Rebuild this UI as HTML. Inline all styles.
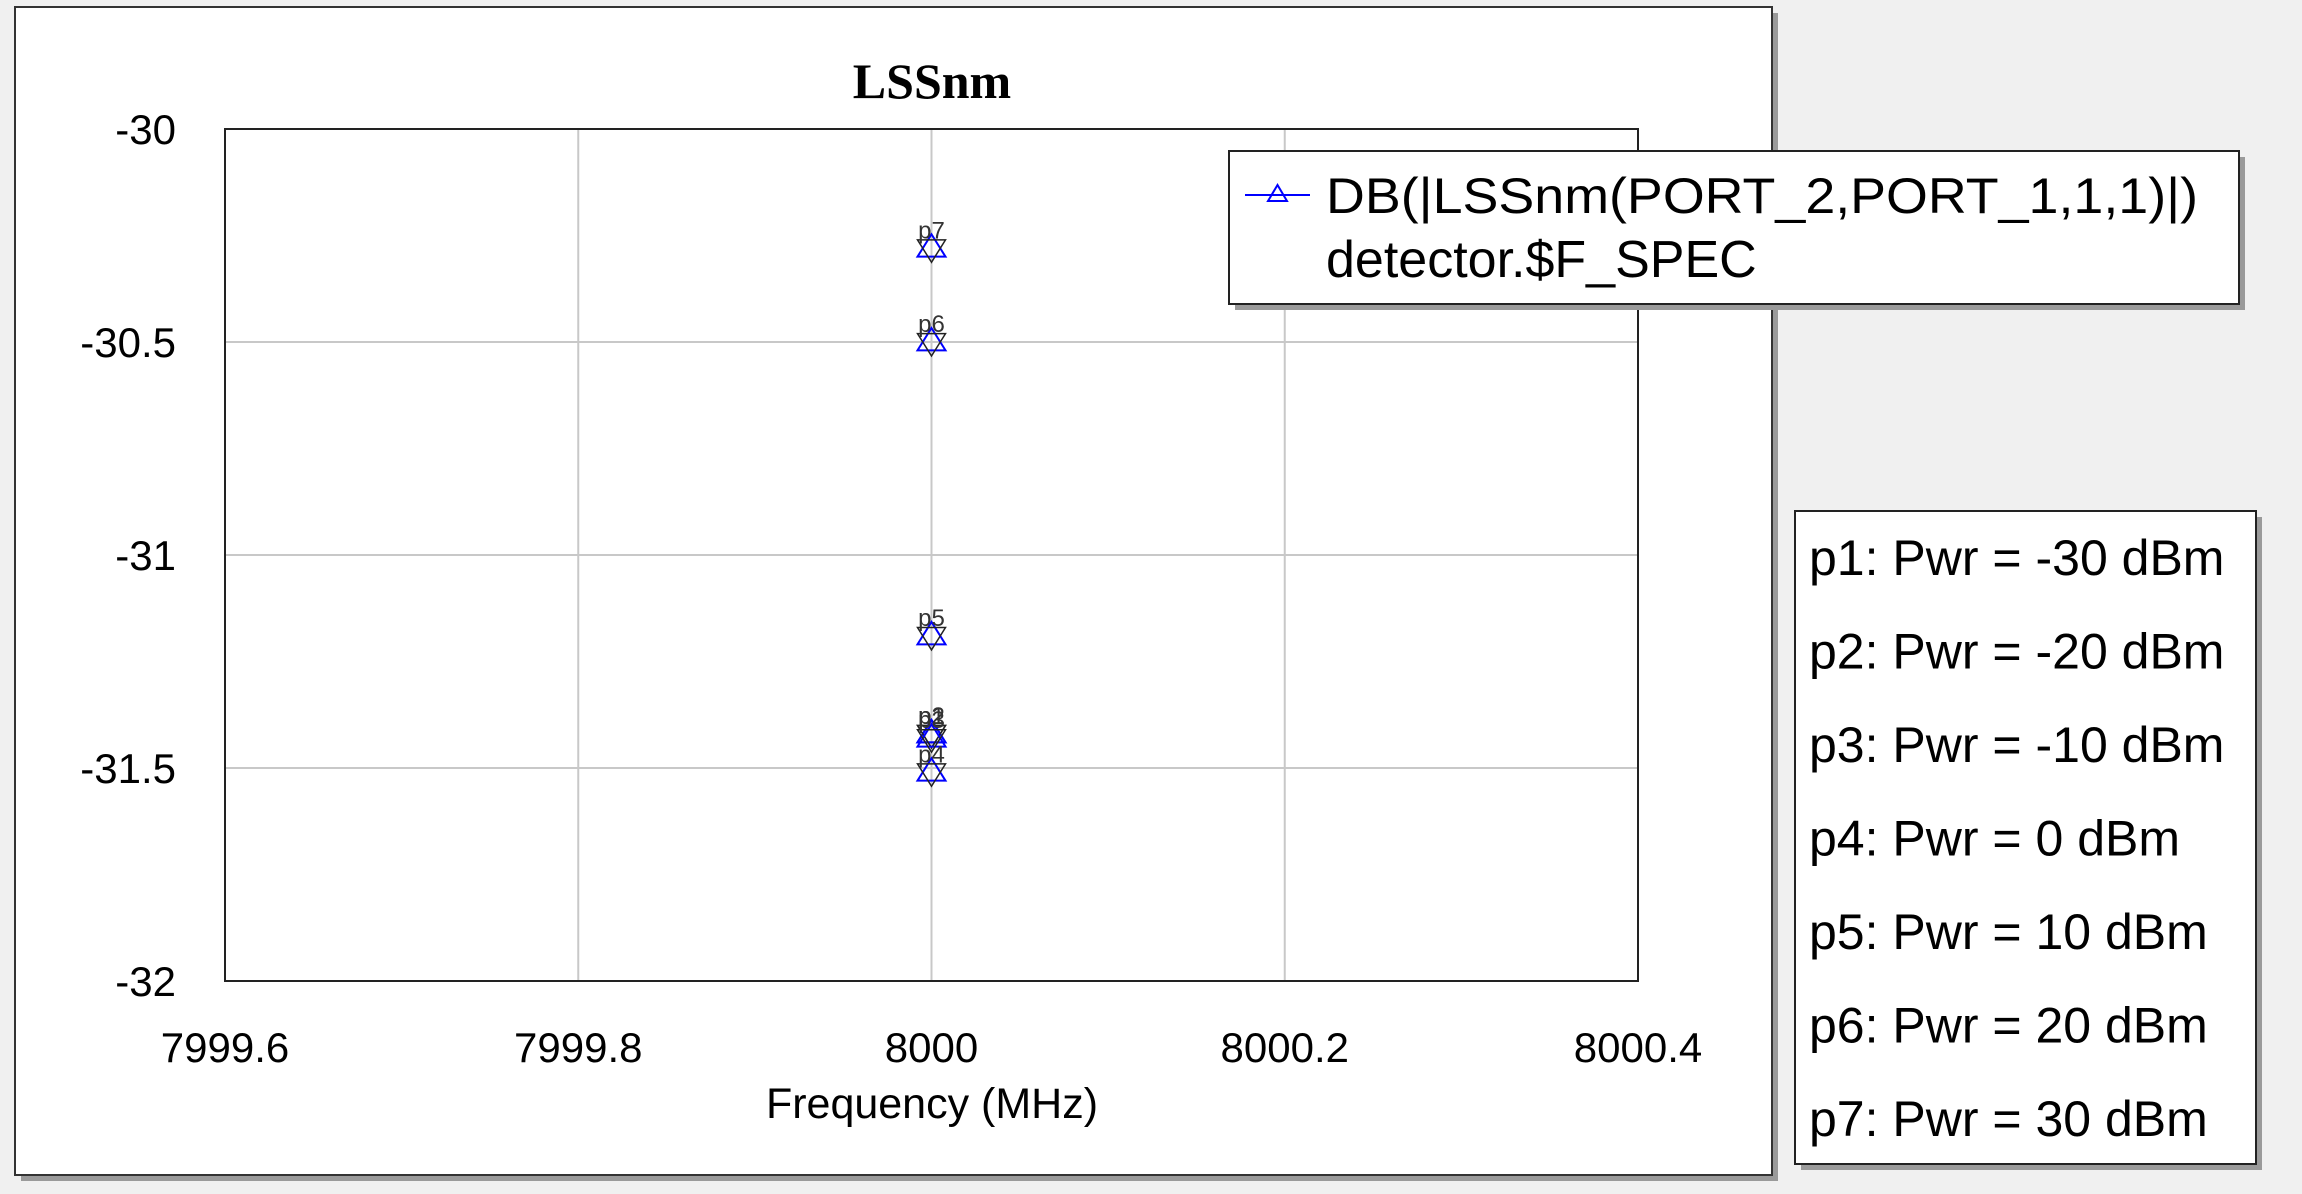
<!DOCTYPE html>
<html><head><meta charset="utf-8">
<style>
html,body{margin:0;padding:0;background:#f0f0f0;}
svg{display:block;font-family:"Liberation Sans",Arial,sans-serif;}
</style></head>
<body>
<svg id="chart" width="2302" height="1194" viewBox="0 0 2302 1194" xmlns="http://www.w3.org/2000/svg">
  <rect x="0" y="0" width="2302" height="1194" fill="#f0f0f0"/>
  <rect x="21" y="13" width="1757" height="1168" fill="#9a9a9a"/>
  <rect x="15" y="7" width="1757" height="1168" fill="#fff" stroke="#333" stroke-width="2"/>
  <text x="932" y="98" text-anchor="middle" font-family="Liberation Serif,serif" font-weight="bold" font-size="50">LSSnm</text>
  <g id="grid"></g>
  <rect x="225" y="129" width="1413" height="852" fill="none" stroke="#222" stroke-width="2"/>
  <g id="yticks"></g>
  <g id="xticks"></g>
  <text x="932" y="1118" text-anchor="middle" font-size="43">Frequency (MHz)</text>
  <g id="marks"></g>

  <g>
    <rect x="1235" y="157" width="1010" height="153" fill="#9a9a9a"/>
    <rect x="1229" y="151" width="1010" height="153" fill="#fff" stroke="#222" stroke-width="2"/>
    <line x1="1245" y1="195" x2="1310" y2="195" stroke="#0000ff" stroke-width="2"/>
    <polygon points="1277.5,185 1268,201 1287,201" fill="none" stroke="#0000ff" stroke-width="2"/>
    <text x="1326" y="213" font-size="50" textLength="872" lengthAdjust="spacingAndGlyphs">DB(|LSSnm(PORT_2,PORT_1,1,1)|)</text>
    <text x="1326" y="277" font-size="52">detector.$F_SPEC</text>
  </g>

  <g>
    <rect x="1801" y="517" width="461" height="653" fill="#9a9a9a"/>
    <rect x="1795" y="511" width="461" height="653" fill="#fff" stroke="#222" stroke-width="2"/>
    <g id="mlist"></g>
  </g>
</svg>
<script>
const categories = ["p1","p2","p3","p4","p5","p6","p7"];
const freqValues = [8000,8000,8000,8000,8000,8000,8000];
const dbValues = [-31.42,-31.42,-31.43,-31.51,-31.19,-30.50,-30.28];
const powerLabels = ["-30","-20","-10","0","10","20","30"];
const xTicks = [7999.6,7999.8,8000,8000.2,8000.4];
const xTickLabels = ["7999.6","7999.8","8000","8000.2","8000.4"];
const yTicks = [-30,-30.5,-31,-31.5,-32];
const yTickLabels = ["-30","-30.5","-31","-31.5","-32"];

const NS = "http://www.w3.org/2000/svg";
const X0=225,X1=1638,Y0=129,Y1=981;
function xs(v){return X0+(v-7999.6)/0.8*(X1-X0);}
function ys(v){return Y0+(-30-v)/2*(Y1-Y0);}
function mk(tag,attrs,parent){const e=document.createElementNS(NS,tag);for(const k in attrs)e.setAttribute(k,attrs[k]);parent.appendChild(e);return e;}

const grid=document.getElementById('grid');
xTicks.forEach((t,i)=>{
  if(i>0&&i<xTicks.length-1){
    const l=mk('line',{x1:xs(t),x2:xs(t),y1:Y0,y2:Y1,stroke:'#c8c8c8','stroke-width':2},grid);
    
    
  }
  const tx=mk('text',{x:xs(t),y:1062,'text-anchor':'middle','font-size':42},document.getElementById('xticks'));
  tx.textContent=xTickLabels[i];
  
  
});
yTicks.forEach((t,i)=>{
  if(i>0&&i<yTicks.length-1){
    const l=mk('line',{x1:X0,x2:X1,y1:ys(t),y2:ys(t),stroke:'#c8c8c8','stroke-width':2},grid);
    
    
  }
  const tx=mk('text',{x:176,y:ys(t)+15,'text-anchor':'end','font-size':42},document.getElementById('yticks'));
  tx.textContent=yTickLabels[i];
  
  
});

const marks=document.getElementById('marks');
categories.forEach((c,i)=>{
  const x=xs(freqValues[i]),y=ys(dbValues[i]),s=14;
  const g=mk('g',{},marks);
  
  
  mk('polygon',{points:`${x},${y-s} ${x-s},${y+s*0.6} ${x+s},${y+s*0.6}`,fill:'none',stroke:'#0000ff','stroke-width':2},g);
  mk('polygon',{points:`${x},${y+s} ${x-s},${y-s*0.6} ${x+s},${y-s*0.6}`,fill:'none',stroke:'#222','stroke-width':1.5},g);
  const t=mk('text',{x:x,y:y-10,'text-anchor':'middle','font-size':24,fill:'#333'},g);
  t.textContent=c;
});

const ml=document.getElementById('mlist');
categories.forEach((c,i)=>{
  const t=mk('text',{x:1809,y:575+i*93.5,'font-size':50},ml);
  t.textContent=`${c}: Pwr = ${powerLabels[i]} dBm`;
  
  
});
</script>
</body></html>
